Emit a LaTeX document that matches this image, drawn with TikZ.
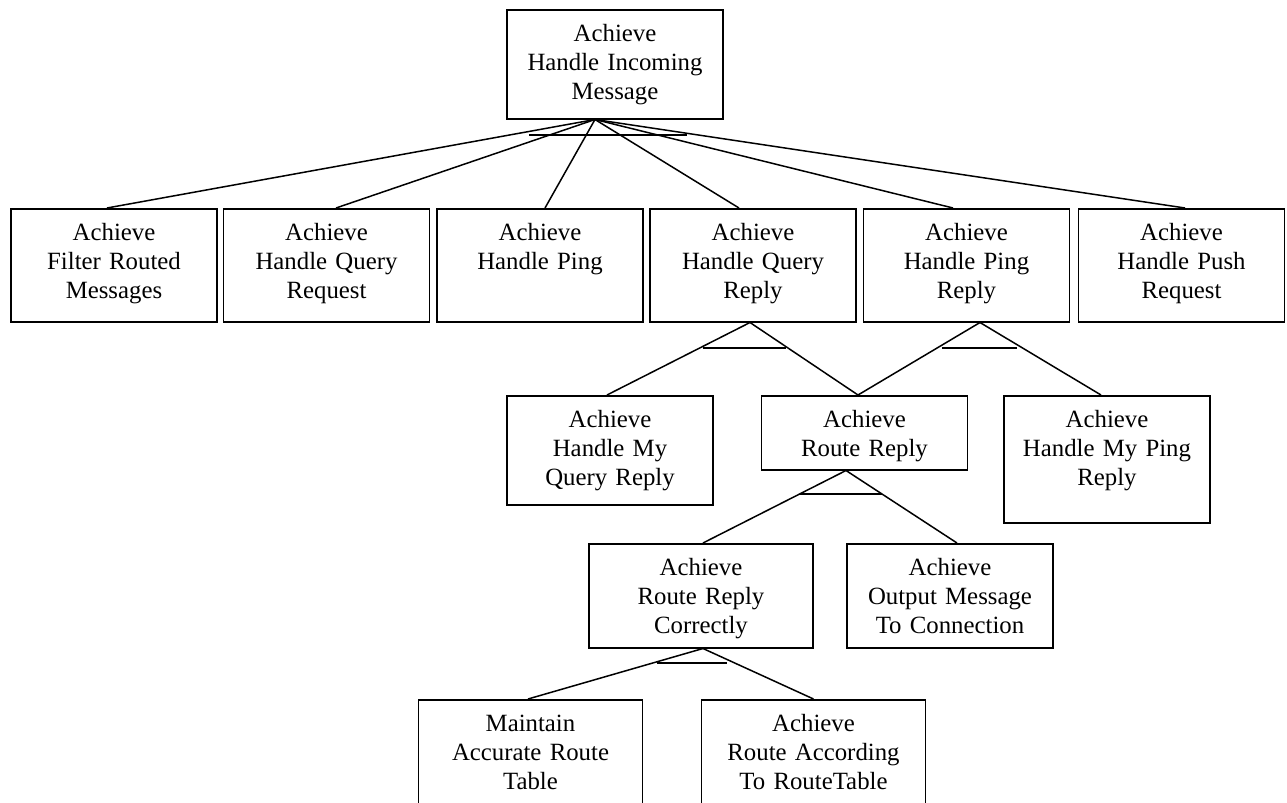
\documentclass[tikz,border=0pt]{standalone}
\usepackage{fontspec}
\setmainfont{Liberation Serif}
\usetikzlibrary{calc}

\begin{document}
\begin{tikzpicture}[x=0.5pt, y=-0.5pt, line width=0.75pt,
    goal/.style={draw, anchor=north, align=center, inner sep=0pt,
      text width=103pt, text height=16pt, text depth=40.5pt,
      font=\fontsize{12.4}{14.5}\selectfont},
    wide/.style={text width=112pt},
    andbar/.style={line width=1pt}]
  \useasboundingbox (0,0) rectangle (1287,803);
  \clip (0,0) rectangle (1287,803);
  % root goal
  \node[goal, text width=108pt, text depth=38.5pt] (hub) at (615,9) {Achieve\\Handle Incoming\\Message};
  % first level
  \node[goal] (filter) at (114,208) {Achieve\\Filter Routed\\Messages};
  \node[goal] (qreq) at (326.5,208) {Achieve\\Handle Query\\Request};
  \node[goal] (ping) at (540,208) {Achieve\\Handle Ping};
  \node[goal] (qrep) at (753,208) {Achieve\\Handle Query\\Reply};
  \node[goal] (prep) at (966.5,208) {Achieve\\Handle Ping\\Reply};
  \node[goal] (push) at (1181.5,208) {Achieve\\Handle Push\\Request};
  % second level
  \node[goal, text depth=38.5pt] (myq) at (610,395) {Achieve\\Handle My\\Query Reply};
  \node[goal, text depth=21pt] (route) at (864.5,395) {Achieve\\Route Reply};
  \node[goal, text depth=47.5pt] (myping) at (1107,395) {Achieve\\Handle My Ping\\Reply};
  % third level
  \node[goal, wide, text depth=36pt] (correct) at (701,543) {Achieve\\Route Reply\\Correctly};
  \node[goal, text depth=36pt] (output) at (950,543) {Achieve\\Output Message\\To Connection};
  % fourth level
  \node[goal, wide, text depth=50pt] (table) at (530.5,699) {Maintain\\Accurate Route\\Table};
  \node[goal, wide, text depth=50pt] (accord) at (813.5,699) {Achieve\\Route According\\To RouteTable};

  \coordinate (a0) at ([xshift=-10pt]hub.south);
  \coordinate (a4) at ([xshift=-1.5pt]qrep.south);
  \coordinate (a5) at ([xshift=6.75pt]prep.south);
  \coordinate (aR) at ([xshift=-9.25pt]route.south);
  \coordinate (aC) at ([xshift=1pt]correct.south);

  \draw (a0) -- ([xshift=-3.5pt]filter.north);
  \draw (a0) -- ([xshift=4.75pt]qreq.north);
  \draw (a0) -- ([xshift=2.5pt]ping.north);
  \draw (a0) -- ([xshift=-7pt]qrep.north);
  \draw (a0) -- ([xshift=-6.75pt]prep.north);
  \draw (a0) -- ([xshift=1.75pt]push.north);
  \draw[andbar] ($(a0)+(-66,15)$) -- ($(a0)+(92,15)$);

  \draw (a4) -- ([xshift=-1.5pt]myq.north);
  \draw (a4) -- ([xshift=-3.25pt]route.north);
  \draw[andbar] ($(a4)+(-47,25)$) -- ($(a4)+(36,25)$);

  \draw (a5) -- ([xshift=-3.25pt]route.north);
  \draw (a5) -- ([xshift=-3pt]myping.north);
  \draw[andbar] ($(a5)+(-38,25)$) -- ($(a5)+(37,25)$);

  \draw (aR) -- ([xshift=1pt]correct.north);
  \draw (aR) -- ([xshift=3.5pt]output.north);
  \draw[andbar] ($(aR)+(-46,23)$) -- ($(aR)+(36,23)$);

  \draw (aC) -- ([xshift=-1.25pt]table.north);
  \draw (aC) -- (accord.north);
  \draw[andbar] ($(aC)+(-46,14)$) -- ($(aC)+(24,14)$);
\end{tikzpicture}
\end{document}
